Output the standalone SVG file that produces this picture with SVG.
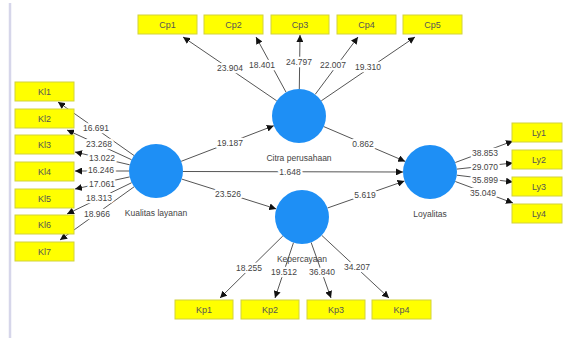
<svg xmlns="http://www.w3.org/2000/svg" width="563" height="338" viewBox="0 0 563 338">
<defs>
<marker id="arr" viewBox="0 0 10 10" refX="10" refY="5" markerWidth="7" markerHeight="7" markerUnits="userSpaceOnUse" orient="auto">
<path d="M0,0 L10,5 L0,10 z" fill="#111"/>
</marker>
<style>
.box{fill:#ffff00;stroke:#d2d23c;stroke-width:1}
.bt{font-family:"Liberation Sans",Arial,sans-serif;font-size:9px;fill:#555;text-anchor:middle;dominant-baseline:central}
.lv{fill:#1e8ff5}
.lt{font-family:"Liberation Sans",Arial,sans-serif;font-size:8.5px;fill:#444;text-anchor:middle}
.e{stroke:#555;stroke-width:1;fill:none;marker-end:url(#arr)}
.el{font-family:"Liberation Sans",Arial,sans-serif;font-size:8.5px;fill:#444;text-anchor:middle;dominant-baseline:central;stroke:#fff;stroke-width:4.5;stroke-linejoin:round;paint-order:stroke}
</style>
</defs>
<rect width="563" height="338" fill="#fff"/>
<line x1="10" y1="3" x2="10" y2="338" stroke="#d6d6ea" stroke-width="2.5"/>

<g id="connectors">
<line class="e" x1="276.7" y1="100.8" x2="183" y2="37"/>
<line class="e" x1="286.1" y1="92.3" x2="256" y2="37"/>
<line class="e" x1="299.3" y1="89" x2="300" y2="35"/>
<line class="e" x1="315.2" y1="94.4" x2="358" y2="37"/>
<line class="e" x1="321.3" y1="100.8" x2="415" y2="37"/>
<line class="e" x1="134" y1="155.5" x2="58" y2="102"/>
<line class="e" x1="131.5" y1="159.7" x2="67" y2="130"/>
<line class="e" x1="129.7" y1="164.8" x2="75" y2="152"/>
<line class="e" x1="129" y1="171" x2="75" y2="171"/>
<line class="e" x1="129.7" y1="176.9" x2="75" y2="189"/>
<line class="e" x1="131.7" y1="182.7" x2="67" y2="214"/>
<line class="e" x1="134.1" y1="186.8" x2="60" y2="240"/>
<line class="e" x1="181.2" y1="161.3" x2="273.8" y2="125.7"/>
<line class="e" x1="183" y1="171.5" x2="403" y2="172"/>
<line class="e" x1="181.8" y1="179.1" x2="276.2" y2="208.9"/>
<line class="e" x1="323.8" y1="126.6" x2="405.2" y2="161.4"/>
<line class="e" x1="327.5" y1="208" x2="404.5" y2="181"/>
<line class="e" x1="455.3" y1="162.5" x2="513" y2="141"/>
<line class="e" x1="456.8" y1="169.1" x2="513" y2="163"/>
<line class="e" x1="456.8" y1="175.2" x2="513" y2="182"/>
<line class="e" x1="455.3" y1="181.5" x2="513" y2="203"/>
<line class="e" x1="282.8" y1="236" x2="220" y2="298"/>
<line class="e" x1="293.5" y1="242.6" x2="275" y2="298"/>
<line class="e" x1="311.1" y1="242.4" x2="331" y2="298"/>
<line class="e" x1="321.8" y1="235.4" x2="389" y2="298"/>
<text class="el" x="230" y="68">23.904</text>
<text class="el" x="262" y="65">18.401</text>
<text class="el" x="299" y="62">24.797</text>
<text class="el" x="333" y="65">22.007</text>
<text class="el" x="368" y="67">19.310</text>
<text class="el" x="96" y="128">16.691</text>
<text class="el" x="99" y="144">23.268</text>
<text class="el" x="102" y="158">13.022</text>
<text class="el" x="101" y="170">16.246</text>
<text class="el" x="102" y="184">17.061</text>
<text class="el" x="99" y="198">18.313</text>
<text class="el" x="97" y="214">18.966</text>
<text class="el" x="230" y="143">19.187</text>
<text class="el" x="290" y="172">1.648</text>
<text class="el" x="228" y="194">23.526</text>
<text class="el" x="363" y="144">0.862</text>
<text class="el" x="365" y="195">5.619</text>
<text class="el" x="485" y="153">38.853</text>
<text class="el" x="485" y="167">29.070</text>
<text class="el" x="485" y="180">35.899</text>
<text class="el" x="483" y="193">35.049</text>
<text class="el" x="249" y="268">18.255</text>
<text class="el" x="284" y="272">19.512</text>
<text class="el" x="322" y="272">36.840</text>
<text class="el" x="357" y="267">34.207</text>
</g>

<g id="citra"><circle class="lv" cx="299" cy="116" r="27"/><text class="lt" x="299" y="161">Citra perusahaan</text></g>
<g id="kualitas"><circle class="lv" cx="156" cy="171" r="27"/><text class="lt" x="156" y="216">Kualitas layanan</text></g>
<g id="loyalitas"><circle class="lv" cx="430" cy="172" r="27"/><text class="lt" x="430" y="217">Loyalitas</text></g>
<g id="kepercayaan"><circle class="lv" cx="302" cy="217" r="27"/><text class="lt" x="302" y="262">Kepercayaan</text></g>

<g id="Cp1"><rect class="box" x="138" y="15" width="59" height="19"/><text class="bt" x="167.5" y="24.5">Cp1</text></g>
<g id="Cp2"><rect class="box" x="204" y="15" width="59" height="19"/><text class="bt" x="233.5" y="24.5">Cp2</text></g>
<g id="Cp3"><rect class="box" x="271" y="15" width="58" height="19"/><text class="bt" x="300" y="24.5">Cp3</text></g>
<g id="Cp4"><rect class="box" x="337" y="15" width="59" height="19"/><text class="bt" x="366.5" y="24.5">Cp4</text></g>
<g id="Cp5"><rect class="box" x="403" y="15" width="59" height="19"/><text class="bt" x="432.5" y="24.5">Cp5</text></g>

<g id="Kl1"><rect class="box" x="15" y="82" width="59" height="19"/><text class="bt" x="44.5" y="91.5">Kl1</text></g>
<g id="Kl2"><rect class="box" x="15" y="109" width="59" height="19"/><text class="bt" x="44.5" y="118.5">Kl2</text></g>
<g id="Kl3"><rect class="box" x="15" y="135" width="59" height="19"/><text class="bt" x="44.5" y="144.5">Kl3</text></g>
<g id="Kl4"><rect class="box" x="15" y="162" width="59" height="19"/><text class="bt" x="44.5" y="171.5">Kl4</text></g>
<g id="Kl5"><rect class="box" x="15" y="189" width="59" height="19"/><text class="bt" x="44.5" y="198.5">Kl5</text></g>
<g id="Kl6"><rect class="box" x="15" y="215" width="59" height="19"/><text class="bt" x="44.5" y="224.5">Kl6</text></g>
<g id="Kl7"><rect class="box" x="15" y="242" width="59" height="19"/><text class="bt" x="44.5" y="251.5">Kl7</text></g>

<g id="Ly1"><rect class="box" x="512" y="123" width="50" height="19"/><text class="bt" x="539" y="132.5">Ly1</text></g>
<g id="Ly2"><rect class="box" x="512" y="150" width="50" height="19"/><text class="bt" x="539" y="159.5">Ly2</text></g>
<g id="Ly3"><rect class="box" x="512" y="177" width="50" height="19"/><text class="bt" x="539" y="186.5">Ly3</text></g>
<g id="Ly4"><rect class="box" x="512" y="204" width="50" height="19"/><text class="bt" x="539" y="213.5">Ly4</text></g>

<g id="Kp1"><rect class="box" x="175" y="300" width="58" height="19"/><text class="bt" x="204" y="309.5">Kp1</text></g>
<g id="Kp2"><rect class="box" x="241" y="300" width="58" height="19"/><text class="bt" x="270" y="309.5">Kp2</text></g>
<g id="Kp3"><rect class="box" x="307" y="300" width="58" height="19"/><text class="bt" x="336" y="309.5">Kp3</text></g>
<g id="Kp4"><rect class="box" x="372" y="300" width="59" height="19"/><text class="bt" x="401.5" y="309.5">Kp4</text></g>
</svg>
